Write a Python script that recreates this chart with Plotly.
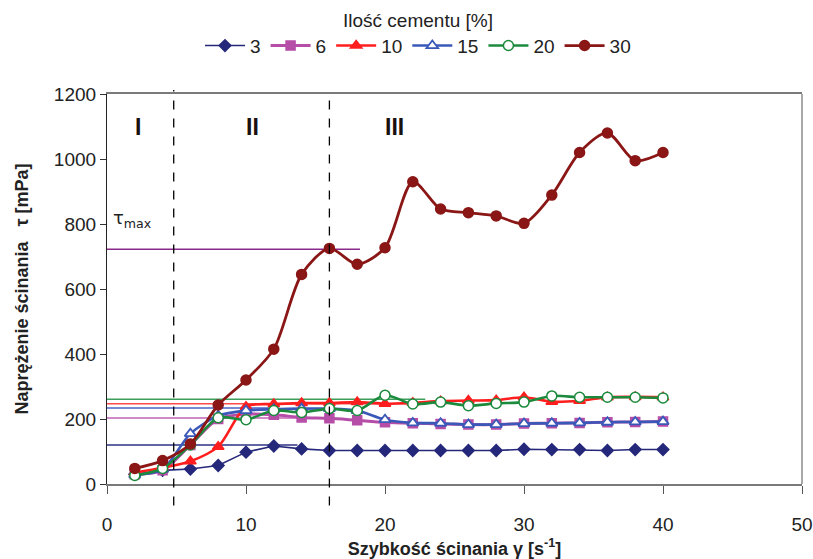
import plotly.graph_objects as go

# ---- data ----
shear_rate = [2, 4, 6, 8, 10, 12, 14, 16, 18, 20, 22, 24, 26, 28, 30, 32, 34, 36, 38, 40]

cement_levels = ["3", "6", "10", "15", "20", "30"]

tau_3 = [30, 42, 46, 57, 98, 117, 108, 103, 103, 103, 103, 103, 103, 103, 107, 106, 106, 103, 106, 106]
tau_6 = [30, 42, 120, 200, 215, 213, 205, 202, 196, 190, 187, 185, 183, 183, 186, 187, 188, 190, 191, 192]
tau_10 = [35, 50, 70, 115, 238, 246, 249, 249, 252, 247, 250, 255, 257, 258, 267, 253, 256, 267, 268, 267]
tau_15 = [28, 45, 155, 210, 226, 230, 232, 232, 226, 198, 188, 187, 183, 183, 186, 187, 188, 190, 191, 192]
tau_20 = [26, 48, 120, 204, 198, 226, 220, 232, 226, 273, 246, 252, 241, 248, 252, 271, 267, 267, 267, 265]
tau_30 = [48, 72, 123, 243, 320, 415, 645, 725, 676, 727, 930, 846, 835, 825, 802, 889, 1020, 1080, 995, 1020]

# tau_max reference levels and their horizontal extents
tau_max_values = [120, 203, 247, 234, 261, 722]
tau_max_x_end = [13.7, 16.0, 23.0, 12.0, 22.9, 18.2]

region_bounds = [4.8, 16.0]
region_labels = ["I", "II", "III"]
region_label_x = [2.2, 10.5, 20.7]
region_label_y = 1100

x_ticks = [0, 10, 20, 30, 40, 50]
y_ticks = [0, 200, 400, 600, 800, 1000, 1200]

# ---- styles ----
series = [tau_3, tau_6, tau_10, tau_15, tau_20, tau_30]
colors = ["#25287A", "#B64EA8", "#FF1E1E", "#3A58B8", "#1B8A3C", "#8A1616"]
ref_colors = ["#2E3286", "#C060B4", "#FF4A4A", "#4864C4", "#3D9E5C", "#8C2A8C"]
symbols = ["diamond", "square", "triangle-up", "triangle-up-open", "circle", "circle"]
marker_fill = ["#25287A", "#B64EA8", "#FF1E1E", "#3A58B8", "#FFFFFF", "#8A1616"]
marker_sizes = [9, 9, 10, 10, 10, 10]
line_widths = [1.6, 3, 2.6, 2.6, 2.6, 2.8]
shapes_line = ["linear", "spline", "spline", "spline", "spline", "spline"]

FONT = "Liberation Sans, Arial, sans-serif"

fig = go.Figure()

# reference tau_max lines
for val, xe, c in zip(tau_max_values, tau_max_x_end, ref_colors):
    fig.add_trace(go.Scatter(x=[0, xe], y=[val, val], mode="lines",
                             line=dict(color=c, width=1.5),
                             showlegend=False, hoverinfo="skip", cliponaxis=False))

for name, ys, c, sym, fill, ms, lw, sh in zip(cement_levels, series, colors, symbols,
                                             marker_fill, marker_sizes, line_widths, shapes_line):
    mk = dict(symbol=sym, size=ms, color=fill, line=dict(color=c, width=1.5))
    if sym == "triangle-up-open":
        mk = dict(symbol="triangle-up", size=ms, color="#FFFFFF", line=dict(color=c, width=1.8))
    fig.add_trace(go.Scatter(
        x=shear_rate, y=ys, name=name, mode="lines+markers",
        line=dict(color=c, width=lw, shape=sh, smoothing=0.8),
        marker=mk, cliponaxis=False))

shapes = []
for xb, top in zip(region_bounds, [1.01, 0.99]):
    shapes.append(dict(type="line", xref="x", yref="paper", x0=xb, x1=xb,
                       y0=-0.055, y1=top,
                       line=dict(color="black", width=1.3, dash="dash")))
# right border
shapes.append(dict(type="line", xref="paper", yref="paper", x0=1, x1=1, y0=0, y1=1,
                   line=dict(color="#8C8C8C", width=1.5)))

annotations = []
for lbl, lx in zip(region_labels, region_label_x):
    annotations.append(dict(x=lx, y=region_label_y, xref="x", yref="y", text=lbl,
                            showarrow=False,
                            font=dict(family=FONT, size=23, color="#1A1010", weight="bold")))
annotations.append(dict(x=0.3, y=815, xref="x", yref="y", xanchor="left", yanchor="middle",
                        text="τ<sub>max</sub>", showarrow=False,
                        font=dict(family="DejaVu Sans, sans-serif", size=18, color="#222")))

fig.update_layout(
    width=813, height=559,
    margin=dict(l=107, r=11, t=94, b=75, autoexpand=False),
    paper_bgcolor="white", plot_bgcolor="white",
    font=dict(family=FONT, size=18, color="#222"),
    showlegend=True,
    legend=dict(orientation="h", xref="container", yref="container",
                x=418 / 813, xanchor="center", y=1 - 2 / 559, yanchor="top",
                title=dict(text="Ilość cementu [%]", side="top center",
                           font=dict(family=FONT, size=19)),
                font=dict(family=FONT, size=19), itemwidth=40,
                bgcolor="rgba(0,0,0,0)"),
    shapes=shapes,
    annotations=annotations,
    xaxis=dict(range=[0, 50], tickvals=x_ticks, showgrid=False, zeroline=False,
               automargin=False,
               showline=True, linecolor="#7A7A7A", linewidth=1.5, mirror=True,
               ticks="outside", ticklen=8, tickcolor="#555", ticklabelstandoff=14,
               tickfont=dict(family=FONT, size=19, color="#222"),
               title=dict(text="<b>Szybkość ścinania γ [s<sup>-1</sup>]</b>", standoff=9,
                          font=dict(family=FONT, size=18, color="#222"))),
    yaxis=dict(range=[0, 1200], tickvals=y_ticks, showgrid=False, zeroline=False,
               automargin=False,
               showline=True, linecolor="#222", linewidth=1.2,
               ticks="outside", ticklen=6, tickcolor="#333",
               tickfont=dict(family=FONT, size=19, color="#222"),
               title=dict(text="<b>Naprężenie ścinania   τ [mPa]</b>", standoff=20,
                          font=dict(family=FONT, size=18, color="#222"))),
)

fig.write_html("out.html")
